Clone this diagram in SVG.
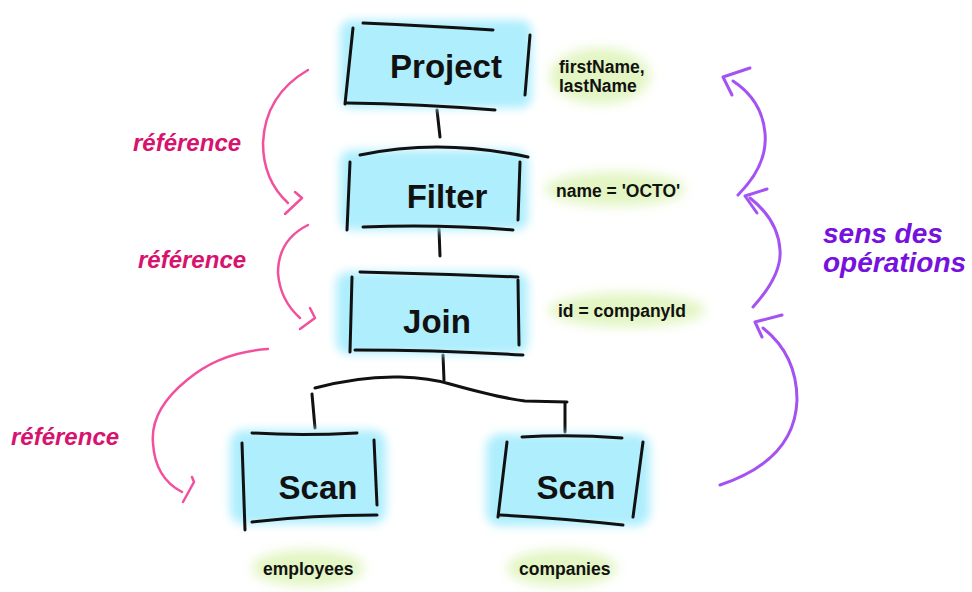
<svg xmlns="http://www.w3.org/2000/svg" width="972" height="592" viewBox="0 0 972 592">
<defs>
<filter id="soft" x="-20%" y="-40%" width="140%" height="180%"><feGaussianBlur stdDeviation="5"/></filter>
<filter id="softg" x="-30%" y="-80%" width="160%" height="260%"><feGaussianBlur stdDeviation="6"/></filter>
</defs>
<style>
.blob{fill:#aeeefd;filter:url(#soft)}
.hl{fill:#e2f5c2;filter:url(#softg)}
.ink{fill:none;stroke:#111;stroke-width:3;stroke-linecap:round;stroke-linejoin:round}
.node{font-family:"Liberation Sans",Arial,sans-serif;font-weight:bold;font-size:33px;fill:#111;text-anchor:middle}
.lbl{font-family:"Liberation Sans",Arial,sans-serif;font-weight:bold;font-size:17.5px;fill:#111}
.ref{font-family:"Liberation Sans",Arial,sans-serif;font-weight:bold;font-style:italic;font-size:24px;fill:#d6136e}
.ops{font-family:"Liberation Sans",Arial,sans-serif;font-weight:bold;font-style:italic;font-size:28px;fill:#7711dd}
.pink{fill:none;stroke:#f2509c;stroke-width:2.5;stroke-linecap:round;stroke-linejoin:round}
.purple{fill:none;stroke:#a452f2;stroke-width:3;stroke-linecap:round;stroke-linejoin:round}
</style>

<g id="highlights">
<ellipse class="hl" cx="600" cy="76" rx="50" ry="28"/>
<ellipse class="hl" cx="615" cy="189" rx="70" ry="17"/>
<ellipse class="hl" cx="627" cy="310" rx="78" ry="17"/>
<ellipse class="hl" cx="308" cy="568" rx="56" ry="18"/>
<ellipse class="hl" cx="562" cy="568" rx="55" ry="18"/>
</g>

<g id="connectors">
<path class="ink" d="M437,110 L440,137"/>
<path class="ink" d="M439,229 L440,256"/>
<path class="ink" d="M443,355 L444,380"/>
<path class="ink" d="M315,388 Q360,376 400,377 Q430,378 450,384 Q500,398 525,401 L567,402"/>
<path class="ink" d="M312,394 L315,428"/>
<path class="ink" d="M565,403 L565,432"/>
</g>

<g id="node-project">
<rect class="blob" x="340" y="20" width="192" height="88" rx="12"/>
<path class="ink" d="M363,23 Q430,26 493,30"/>
<path class="ink" d="M353,28 L345,104"/>
<path class="ink" d="M530,35 L525,95"/>
<path class="ink" d="M347,103 Q420,104 495,110"/>
<text class="node" x="446" y="78">Project</text>
</g>

<g id="node-filter">
<rect class="blob" x="340" y="150" width="188" height="80" rx="12"/>
<path class="ink" d="M360,155 Q440,138 528,157"/>
<path class="ink" d="M350,162 L347,230"/>
<path class="ink" d="M520,162 L518,220"/>
<path class="ink" d="M363,227 Q440,224 513,230"/>
<text class="node" x="447" y="208">Filter</text>
</g>

<g id="node-join">
<rect class="blob" x="336" y="272" width="192" height="82" rx="12"/>
<path class="ink" d="M360,272 Q440,274 518,277"/>
<path class="ink" d="M352,277 L350,352"/>
<path class="ink" d="M518,280 L519,345"/>
<path class="ink" d="M355,350 Q440,350 523,355"/>
<text class="node" x="437" y="333">Join</text>
</g>

<g id="node-scan-employees">
<rect class="blob" x="230" y="430" width="156" height="94" rx="14"/>
<path class="ink" d="M252,433 Q300,436 357,433"/>
<path class="ink" d="M242,443 L245,530"/>
<path class="ink" d="M374,440 L377,505"/>
<path class="ink" d="M252,522 Q310,515 377,515"/>
<text class="node" x="318" y="499">Scan</text>
</g>

<g id="node-scan-companies">
<rect class="blob" x="486" y="434" width="164" height="92" rx="14"/>
<path class="ink" d="M522,437 Q570,434 622,438"/>
<path class="ink" d="M507,442 L498,517"/>
<path class="ink" d="M643,442 L633,517"/>
<path class="ink" d="M500,515 Q560,518 623,525"/>
<text class="node" x="576" y="499">Scan</text>
</g>

<g id="labels">
<text class="lbl" x="559" y="73">firstName,</text>
<text class="lbl" x="559" y="92">lastName</text>
<text class="lbl" x="556" y="197">name = 'OCTO'</text>
<text class="lbl" x="558" y="317">id = companyId</text>
<text class="lbl" x="263" y="575">employees</text>
<text class="lbl" x="519" y="575">companies</text>
</g>

<g id="reference-arrows">
<path class="pink" d="M308,70 Q265,95 263,143 Q263,180 288,203"/>
<path class="pink" d="M295,192 L302,198 L285,214"/>
<path class="pink" d="M308,225 Q278,240 278,273 Q280,300 300,318"/>
<path class="pink" d="M310,308 L315,318 L300,329"/>
<path class="pink" d="M268,349 Q220,352 187,380 Q150,410 153,443 Q155,478 182,492"/>
<path class="pink" d="M192,477 L194,482 L183,502"/>
<text class="ref" x="133" y="151">référence</text>
<text class="ref" x="138" y="268">référence</text>
<text class="ref" x="11" y="445">référence</text>
</g>

<g id="operation-arrows">
<path class="purple" d="M738,195 Q768,165 765,133 Q762,100 733,81"/>
<path class="purple" d="M750,68 L723,77 L732,95"/>
<path class="purple" d="M753,307 Q782,275 780,250 Q778,220 750,198"/>
<path class="purple" d="M767,189 L745,196 L757,213"/>
<path class="purple" d="M720,485 Q795,460 797,400 Q797,355 763,328"/>
<path class="purple" d="M782,315 L755,322 L762,337"/>
<text class="ops" x="823" y="243">sens des</text>
<text class="ops" x="823" y="272">opérations</text>
</g>
</svg>
